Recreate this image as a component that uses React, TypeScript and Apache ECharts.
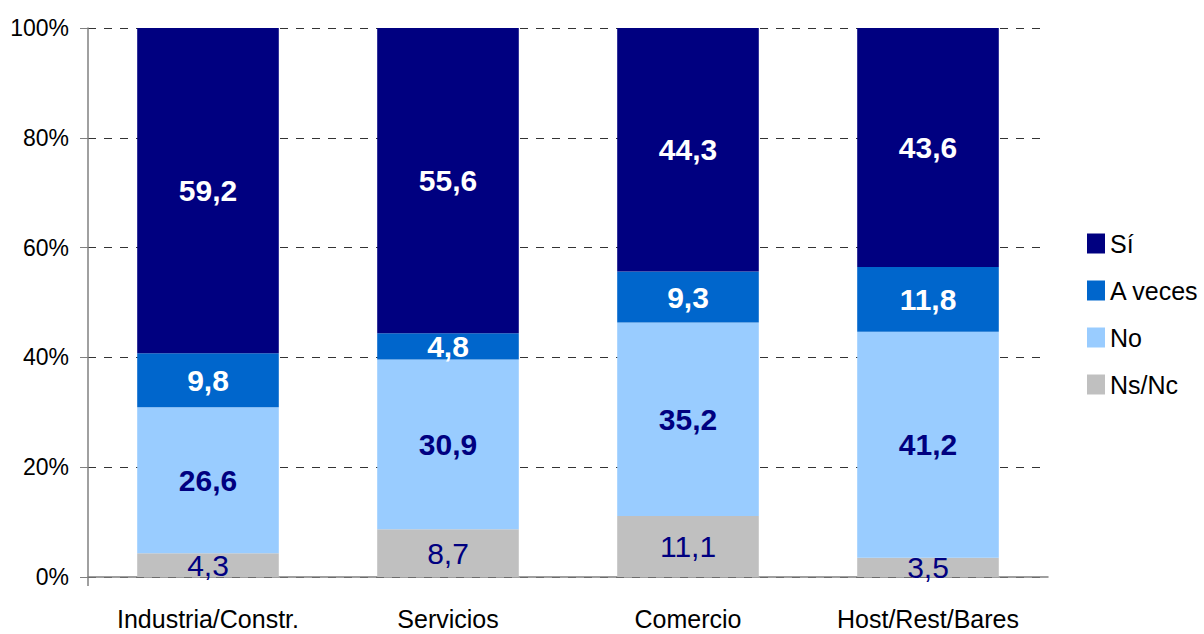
import React, { useEffect, useRef } from "react";
import * as echarts from "echarts";

const categories = ["Industria/Constr.", "Servicios", "Comercio", "Host/Rest/Bares"];
const seriesNames = ["Sí", "A veces", "No", "Ns/Nc"];
const si = [59.2, 55.6, 44.3, 43.6];
const aVeces = [9.8, 4.8, 9.3, 11.8];
const no = [26.6, 30.9, 35.2, 41.2];
const nsnc = [4.3, 8.7, 11.1, 3.5];
const yTicks = [0, 20, 40, 60, 80, 100];

const colors: Record<string, string> = {
  "Sí": "#000080",
  "A veces": "#0066CC",
  "No": "#99CCFF",
  "Ns/Nc": "#C0C0C0",
};

const FONT = "'Liberation Sans', Arial, sans-serif";

export default function App() {
  const ref = useRef<HTMLDivElement>(null);
  useEffect(() => {
    if (!ref.current) return;
    const chart = echarts.init(ref.current, null, { renderer: "svg" });
    const totals = categories.map((_, i) => si[i] + aVeces[i] + no[i] + nsnc[i]);
    const mk = (name: string, vals: number[], labelColor: string, bold: boolean) => ({
      name,
      type: "bar",
      stack: "total",
      barWidth: "59%",
      itemStyle: { color: colors[name] },
      data: vals.map((v, i) => ({ value: (v / totals[i]) * 100, raw: v })),
      label: {
        show: true,
        position: "inside",
        color: labelColor,
        fontFamily: FONT,
        fontSize: 30,
        fontWeight: bold ? "bold" : "normal",
        formatter: (p: any) => String(p.data.raw).replace(".", ","),
      },
    });
    chart.setOption({
      animation: false,
      grid: { left: 88, right: 156, top: 28, bottom: 57, containLabel: false },
      legend: {
        data: seriesNames,
        orient: "vertical",
        left: 1087,
        top: 231,
        padding: 0,
        itemWidth: 18,
        itemHeight: 20,
        itemGap: 22,
        icon: "rect",
        textStyle: { fontFamily: FONT, fontSize: 25, color: "#000" },
      },
      graphic: [
        {
          type: "line",
          shape: { x1: 88, y1: 577, x2: 88, y2: 586 },
          style: { stroke: "#808080", lineWidth: 1.5 },
        },
      ],
      xAxis: {
        type: "category",
        data: categories,
        axisLine: { lineStyle: { color: "#808080", width: 1.5 } },
        axisTick: { show: false },
        axisLabel: { fontFamily: FONT, fontSize: 25, color: "#000", margin: 29 },
      },
      yAxis: {
        type: "value",
        min: 0,
        max: 100,
        interval: 20,
        axisLine: { show: true, lineStyle: { color: "#808080", width: 1.5 } },
        axisTick: { show: true, length: 8, lineStyle: { color: "#808080" } },
        axisLabel: {
          fontFamily: FONT,
          fontSize: 23,
          color: "#000",
          margin: 19,
          formatter: (v: number) => (yTicks.includes(v) ? v + "%" : ""),
        },
        splitLine: { show: true, lineStyle: { color: "#333", type: [8, 8], width: 1 } },
      },
      series: [
        mk("Ns/Nc", nsnc, "#000080", false),
        mk("No", no, "#000080", true),
        mk("A veces", aVeces, "#FFFFFF", true),
        mk("Sí", si, "#FFFFFF", true),
      ],
    });
    return () => chart.dispose();
  }, []);
  return <div ref={ref} style={{ width: 1204, height: 634, position: "absolute", left: 0, top: 0 }} />;
}
